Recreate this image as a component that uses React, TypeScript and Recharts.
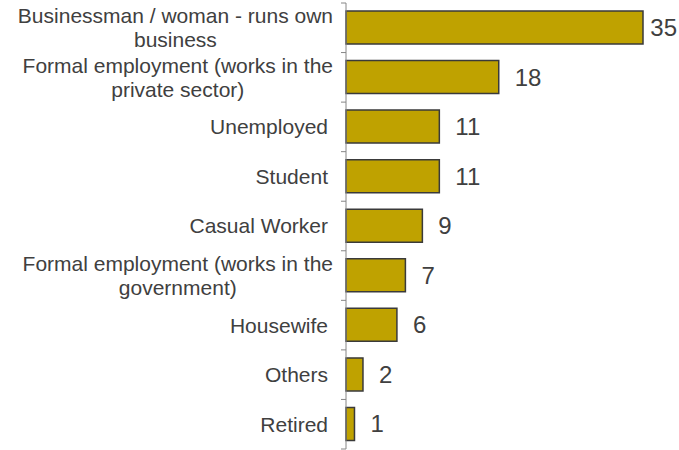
import React from "react";
import { BarChart, Bar, XAxis, YAxis, LabelList } from "recharts";

const labelLines: string[][] = [
  ["Businessman / woman - runs own", "business"],
  ["Formal employment (works in the", "private sector)"],
  ["Unemployed"],
  ["Student"],
  ["Casual Worker"],
  ["Formal employment (works in the", "government)"],
  ["Housewife"],
  ["Others"],
  ["Retired"],
];
const categories: string[] = labelLines.map((l) => l.join(" "));
const values: number[] = [35, 18, 11, 11, 9, 7, 6, 2, 1];

const data = categories.map((c, i) => ({ category: c, value: values[i] }));

const CHART_W = 679;
const CHART_H = 450;
const MARGIN = { top: 3, right: 36, bottom: 1, left: 0 };
const BAND = (CHART_H - MARGIN.top - MARGIN.bottom) / categories.length;
const FONT = "'Liberation Sans', Arial, sans-serif";
const TEXT = "#404040";
const LABEL_SIZE = 21;
const VALUE_SIZE = 24;

let ctx: CanvasRenderingContext2D | null = null;
function measure(text: string, size: number): number {
  if (!ctx) {
    const c = document.createElement("canvas");
    ctx = c.getContext("2d");
  }
  if (!ctx) return text.length * size * 0.55;
  ctx.font = `${size}px 'Liberation Sans'`;
  return ctx.measureText(text).width;
}

const CategoryTick = (props: any) => {
  const { x, y, payload, index } = props;
  const idx = typeof index === "number" ? index : categories.indexOf(payload.value);
  const lines = labelLines[idx] || [String(payload.value)];
  const axisX = x;
  const tickStroke = "#868686";
  const tickMarks = (
    <>
      <line x1={axisX - 5} x2={axisX} y1={y - BAND / 2} y2={y - BAND / 2} stroke={tickStroke} strokeWidth={1} />
      {idx === categories.length - 1 ? (
        <line x1={axisX - 5} x2={axisX} y1={y + BAND / 2} y2={y + BAND / 2} stroke={tickStroke} strokeWidth={1} />
      ) : null}
    </>
  );
  if (lines.length === 1) {
    return (
      <g>
        {tickMarks}
        <text
          x={axisX - 18}
          y={y}
          dy="0.355em"
          textAnchor="end"
          fontSize={LABEL_SIZE}
          fontFamily={FONT}
          fill={TEXT}
        >
          {lines[0]}
        </text>
      </g>
    );
  }
  const maxW = Math.max(...lines.map((l) => measure(l, LABEL_SIZE)));
  const cx = axisX - 13 - maxW / 2;
  const lh = 24;
  return (
    <g>
      {tickMarks}
      {lines.map((l, i) => (
        <text
          key={i}
          x={cx}
          y={y + (i - (lines.length - 1) / 2) * lh}
          dy="0.355em"
          textAnchor="middle"
          fontSize={LABEL_SIZE}
          fontFamily={FONT}
          fill={TEXT}
        >
          {l}
        </text>
      ))}
    </g>
  );
};

const ValueLabel = (props: any) => {
  const { x, y, width, height, value } = props;
  const s = String(value);
  const w = measure(s, VALUE_SIZE);
  let tx = x + width + 16;
  if (tx + w > CHART_W - 2) tx = CHART_W - 2 - w;
  return (
    <text
      x={tx}
      y={y + height / 2}
      dy="0.355em"
      textAnchor="start"
      fontSize={VALUE_SIZE}
      fontFamily={FONT}
      fill={TEXT}
    >
      {s}
    </text>
  );
};

export default function App() {
  return (
    <div style={{ position: "absolute", left: 0, top: 0, width: CHART_W, height: CHART_H, background: "#fff" }}>
      <BarChart
        width={CHART_W}
        height={CHART_H}
        data={data}
        layout="vertical"
        margin={MARGIN}
      >
        <XAxis type="number" domain={[0, 35]} hide />
        <YAxis
          type="category"
          dataKey="category"
          width={346}
          interval={0}
          tickLine={false}
          tickSize={0}
          tickMargin={0}
          axisLine={{ stroke: "#868686", strokeWidth: 1 }}
          tick={<CategoryTick />}
        />
        <Bar
          dataKey="value"
          fill="#BFA200"
          stroke="#3a3a3a"
          strokeWidth={1.5}
          barSize={33}
          isAnimationActive={false}
        >
          <LabelList dataKey="value" content={<ValueLabel />} />
        </Bar>
      </BarChart>
    </div>
  );
}
